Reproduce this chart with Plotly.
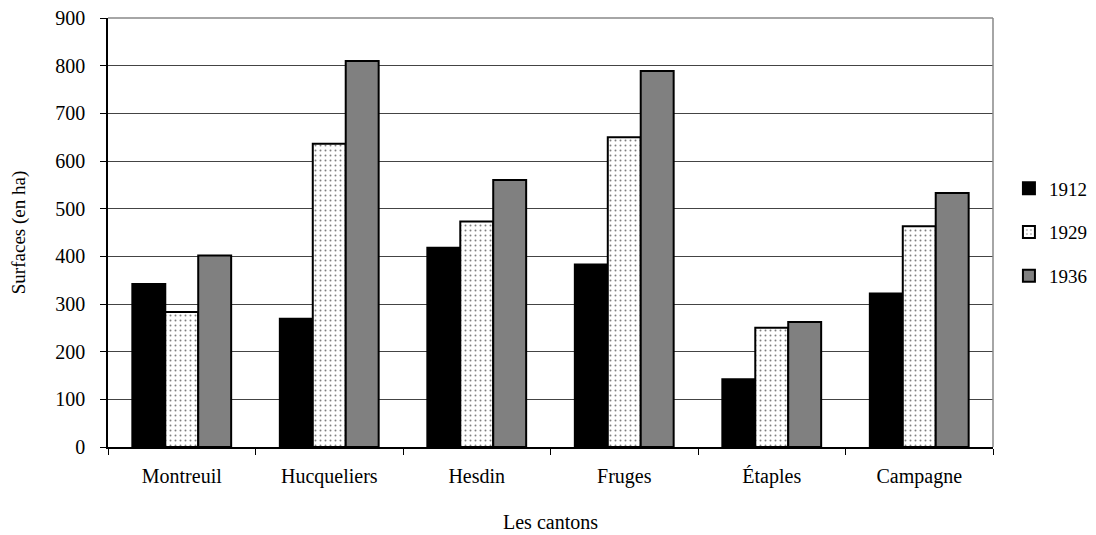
import plotly.graph_objects as go

cantons = ["Montreuil", "Hucqueliers", "Hesdin", "Fruges", "Étaples", "Campagne"]
years = ["1912", "1929", "1936"]
v1912 = [342, 269, 418, 383, 142, 322]
v1929 = [283, 636, 473, 650, 250, 463]
v1936 = [402, 810, 560, 789, 262, 533]
y_ticks = [0, 100, 200, 300, 400, 500, 600, 700, 800, 900]

FONT = "Liberation Serif, Times New Roman, serif"

fig = go.Figure()
styles = [
    dict(color="#000000"),
    dict(color="#ffffff", pattern=dict(shape=".", fgcolor="#000000", bgcolor="#ffffff", size=5, solidity=0.12)),
    dict(color="#808080"),
]
for name, vals, st in zip(years, [v1912, v1929, v1936], styles):
    fig.add_trace(go.Bar(
        x=cantons, y=vals, name=name, legendgroup=name,
        marker=dict(line=dict(color="#000000", width=2), **st),
    ))

fig.update_layout(
    width=1088, height=527,
    margin=dict(l=100, r=103, t=10, b=88, autoexpand=False),
    paper_bgcolor="white", plot_bgcolor="white",
    barmode="group", bargap=0.33, bargroupgap=0,
    font=dict(family=FONT, size=19, color="#000000"),
    showlegend=True,
    legend=dict(x=1.018, y=0.5, xanchor="left", yanchor="middle",
                font=dict(family=FONT, size=19), tracegroupgap=16,
                itemwidth=30),
    xaxis=dict(
        title=dict(text="Les cantons", font=dict(family=FONT, size=20), standoff=28),
        showline=True, linecolor="#000000", linewidth=1.5,
        ticks="outside", ticklen=6, tickcolor="#000000", tickson="boundaries",
        showgrid=False, mirror=False, ticklabelstandoff=10,
        tickfont=dict(family=FONT, size=20),
    ),
    yaxis=dict(
        title=dict(text="Surfaces (en ha)", font=dict(family=FONT, size=19), standoff=26),
        range=[0, 900], tickvals=y_ticks,
        showline=True, linecolor="#000000", linewidth=1.5,
        ticks="outside", ticklen=6, tickcolor="#000000",
        showgrid=True, gridcolor="#444444", gridwidth=1,
        ticklabelstandoff=11, ticklabeloverflow="allow",
        tickfont=dict(family=FONT, size=20),
        zeroline=False,
    ),
)
# border top and right
fig.add_shape(type="line", xref="paper", yref="paper", x0=0, x1=1, y0=1, y1=1,
              line=dict(color="#888888", width=1.5))
fig.add_shape(type="line", xref="paper", yref="paper", x0=1, x1=1, y0=0, y1=1,
              line=dict(color="#888888", width=1.5))

fig.write_html("out.html")
